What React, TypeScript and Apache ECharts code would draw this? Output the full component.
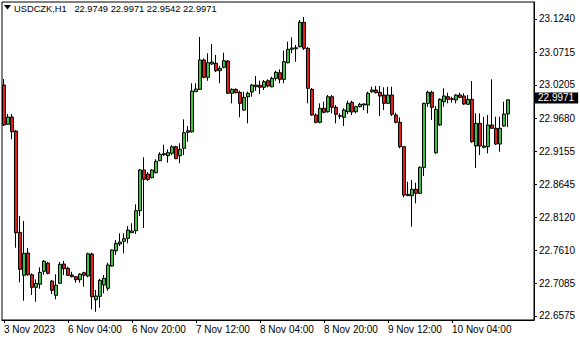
import { useEffect, useRef } from "react";
import * as echarts from "echarts";

const symbolName = "USDCZK,H1";
const opens = [
  23.0203, 22.9586, 22.9700, 22.9480, 22.7889, 22.7214, 22.7564, 22.7223, 22.7025, 22.7073,
  22.7277, 22.7407, 22.7124, 22.6900, 22.7088, 22.7391, 22.7324, 22.7219, 22.7192, 22.7145,
  22.7255, 22.7203, 22.7548, 22.6831, 22.6884, 22.7061, 22.7010, 22.7360, 22.7600, 22.7706,
  22.7748, 22.7795, 22.7883, 22.7914, 22.8229, 22.8868, 22.8805, 22.8747, 22.8825, 22.9014,
  22.9108, 22.9092, 22.9130, 22.9234, 22.9092, 22.9209, 22.9460, 22.9469, 23.0098, 23.0135,
  23.0596, 23.0324, 23.0533, 23.0544, 23.0428, 23.0481, 23.0580, 23.0073, 23.0135, 23.0088,
  22.9810, 23.0019, 23.0093, 23.0176, 23.0198, 23.0167, 23.0270, 23.0176, 23.0308, 23.0396,
  23.0292, 23.0553, 23.0764, 23.0773, 23.0805, 23.1188, 23.0779, 23.0135, 22.9732, 22.9617,
  22.9837, 22.9784, 23.0019, 22.9853, 22.9721, 22.9696, 22.9784, 22.9931, 22.9784, 22.9862,
  22.9889, 22.9889, 23.0098, 23.0124, 23.0088, 23.0046, 22.9915, 23.0046, 22.9732, 22.9617,
  22.9234, 22.8464, 22.8464, 22.8565, 22.8502, 22.8910, 22.9915, 23.0088, 22.9140, 22.9575,
  22.9941, 23.0019, 22.9988, 22.9967, 23.0046, 23.0030, 22.9900, 22.9978, 22.9245, 22.9601,
  22.9225, 22.9234, 22.9575, 22.9523, 22.9276, 22.9559, 22.9749,
];
const closes = [
  22.9575, 22.9700, 22.9469, 22.7883, 22.7308, 22.7559, 22.7223, 22.7025, 22.7088, 22.7261,
  22.7434, 22.7245, 22.6978, 22.7057, 22.7387, 22.7318, 22.7214, 22.7192, 22.7145, 22.7234,
  22.7214, 22.7553, 22.6878, 22.6889, 22.7135, 22.7167, 22.7376, 22.7611, 22.7716, 22.7737,
  22.7789, 22.7925, 22.7910, 22.8229, 22.8868, 22.8722, 22.8722, 22.8868, 22.9004, 22.9114,
  22.9124, 22.9140, 22.9234, 22.9045, 22.9193, 22.9454, 22.9485, 23.0109, 23.0140, 23.0596,
  23.0324, 23.0553, 23.0564, 23.0428, 23.0465, 23.0585, 23.0073, 23.0135, 23.0082, 22.9915,
  23.0010, 23.0073, 23.0203, 23.0203, 23.0167, 23.0255, 23.0187, 23.0308, 23.0402, 23.0292,
  23.0569, 23.0764, 23.0784, 23.0789, 23.1188, 23.0779, 23.0151, 22.9732, 22.9617, 22.9837,
  22.9774, 23.0019, 22.9853, 22.9743, 22.9711, 22.9810, 22.9915, 22.9779, 22.9862, 22.9900,
  22.9905, 23.0073, 23.0124, 23.0082, 23.0030, 22.9915, 23.0046, 22.9743, 22.9617, 22.9234,
  22.8475, 22.8486, 22.8565, 22.8502, 22.8910, 22.9915, 23.0088, 22.9853, 22.9821, 22.9978,
  23.0030, 22.9978, 22.9978, 23.0046, 23.0010, 22.9905, 22.9978, 22.9312, 22.9601, 22.9245,
  22.9245, 22.9575, 22.9523, 22.9276, 22.9523, 22.9747, 22.9971,
];
const lows = [
  22.9559, 22.9575, 22.9350, 22.7647, 22.7104, 22.6815, 22.7208, 22.6904, 22.6799, 22.7003,
  22.7223, 22.7230, 22.6920, 22.6837, 22.7082, 22.7219, 22.7203, 22.7182, 22.7098, 22.7098,
  22.7035, 22.7182, 22.6680, 22.6642, 22.6705, 22.6931, 22.6972, 22.7349, 22.7533, 22.7674,
  22.7559, 22.7716, 22.7883, 22.7863, 22.8145, 22.7957, 22.8695, 22.8737, 22.8816, 22.9009,
  22.9088, 22.8983, 22.9103, 22.9041, 22.8973, 22.9103, 22.9312, 22.9454, 23.0098, 23.0124,
  23.0308, 23.0270, 23.0522, 23.0407, 23.0230, 23.0465, 23.0062, 22.9915, 23.0073, 22.9696,
  22.9799, 22.9601, 23.0019, 23.0113, 23.0062, 23.0124, 23.0167, 23.0167, 23.0270, 23.0230,
  23.0230, 23.0544, 23.0701, 23.0569, 23.0795, 23.0753, 22.9915, 22.9721, 22.9601, 22.9601,
  22.9758, 22.9768, 22.9758, 22.9601, 22.9668, 22.9559, 22.9747, 22.9732, 22.9758, 22.9853,
  22.9810, 22.9758, 23.0082, 23.0073, 22.9716, 22.9810, 22.9905, 22.9716, 22.9601, 22.9209,
  22.8439, 22.8464, 22.7977, 22.8345, 22.8490, 22.8774, 22.9862, 22.9654, 22.9119, 22.9559,
  22.9862, 22.9915, 22.9925, 22.9915, 22.9994, 22.9889, 22.9889, 22.9297, 22.8899, 22.9103,
  22.9209, 22.9130, 22.9523, 22.9261, 22.9155, 22.9548, 22.9542,
];
const highs = [
  23.0297, 22.9747, 22.9747, 22.9496, 22.8145, 22.8067, 22.7643, 22.7245, 22.7151, 22.7340,
  22.7454, 22.7423, 22.7140, 22.7230, 22.7423, 22.7439, 22.7349, 22.7270, 22.7203, 22.7245,
  22.7270, 22.7569, 22.7569, 22.6983, 22.7161, 22.7219, 22.7412, 22.7622, 22.7768, 22.7874,
  22.7874, 22.7988, 22.8031, 22.8329, 22.8884, 22.9067, 22.8836, 22.8884, 22.9036, 22.9146,
  22.9265, 22.9193, 22.9256, 22.9249, 22.9287, 22.9664, 22.9559, 23.0230, 23.0230, 23.0957,
  23.0622, 23.0701, 23.0847, 23.0675, 23.0501, 23.0710, 23.0596, 23.0151, 23.0151, 23.0113,
  23.0098, 23.0098, 23.0219, 23.0344, 23.0270, 23.0281, 23.0292, 23.0333, 23.0428, 23.0450,
  23.0742, 23.0883, 23.0952, 23.0831, 23.1224, 23.1271, 23.0800, 23.0156, 22.9758, 22.9915,
  22.9941, 23.0046, 23.0046, 22.9889, 22.9758, 22.9837, 22.9956, 22.9956, 22.9878, 22.9925,
  22.9915, 23.0098, 23.0176, 23.0187, 23.0187, 23.0167, 23.0176, 23.0176, 22.9768, 22.9696,
  22.9234, 22.8684, 22.8711, 22.8668, 22.8925, 22.9925, 23.0113, 23.0113, 22.9873, 22.9994,
  23.0151, 23.0082, 23.0019, 23.0062, 23.0082, 23.0073, 23.0046, 23.0266, 22.9758, 22.9758,
  22.9705, 22.9732, 23.0292, 22.9705, 22.9705, 22.9941, 22.9971,
];
const priceTicks = [22.6575, 22.7085, 22.761, 22.812, 22.8645, 22.9155, 22.968, 23.0205, 23.0715, 23.124];
const priceMin = 22.6512;
const priceMax = 23.1507;
const lastPrice = 22.9971;
const firstBarUTC = Date.UTC(2023, 10, 3, 12, 0);
const emptyBarsRight = 6;
const labelEvery = 16;
const monthNames = ["Jan", "Feb", "Mar", "Apr", "May", "Jun", "Jul", "Aug", "Sep", "Oct", "Nov", "Dec"];

function buildTimes(count: number): Date[] {
  const out: Date[] = [];
  let t = firstBarUTC;
  while (out.length < count) {
    const d = new Date(t);
    const wd = d.getUTCDay();
    if (wd !== 0 && wd !== 6) out.push(d);
    t += 3600000;
  }
  return out;
}

const pad2 = (v: number) => (v < 10 ? "0" + v : "" + v);

export default function App() {
  const ref = useRef<HTMLDivElement>(null);
  useEffect(() => {
    if (!ref.current) return;
    document.body.style.margin = "0";
    const chart = echarts.init(ref.current, undefined, { renderer: "svg" });
    const nBars = opens.length;
    const times = buildTimes(nBars + emptyBarsRight);
    const categories = times.map(
      (d) => `${d.getUTCFullYear()}-${pad2(d.getUTCMonth() + 1)}-${pad2(d.getUTCDate())} ${pad2(d.getUTCHours())}:00`
    );
    const fmt = (_v: string, idx: number) => {
      const d = times[idx];
      if (!d) return "";
      const base = `${d.getUTCDate()} ${monthNames[d.getUTCMonth()]}`;
      if (idx === 0) return `${base} ${d.getUTCFullYear()}`;
      return `${base} ${pad2(d.getUTCHours())}:${pad2(d.getUTCMinutes())}`;
    };
    const showAt = (idx: number) => idx % labelEvery === 0 && idx < nBars - 8;
    const data = opens.map((o, i) => [o, closes[i], lows[i], highs[i]]);
    const last = data[nBars - 1];
    const header = `${symbolName}   ${last[0].toFixed(4)} ${last[3].toFixed(4)} ${last[2].toFixed(4)} ${last[1].toFixed(4)}`;
    const font = "'Liberation Sans', Arial, sans-serif";

    chart.setOption({
      animation: false,
      backgroundColor: "#ffffff",
      textStyle: { fontFamily: font },
      grid: {
        left: 2,
        right: 46,
        top: 2,
        bottom: 20,
        show: true,
        borderColor: "#000",
        borderWidth: 1,
        backgroundColor: "#fff",
        containLabel: false,
        outerBoundsMode: "none",
      },
      xAxis: {
        type: "category",
        data: categories,
        boundaryGap: true,
        axisLine: { show: true, lineStyle: { color: "#000", width: 1 } },
        axisTick: {
          show: true,
          alignWithLabel: true,
          interval: (i: number) => showAt(i),
          length: 3,
          lineStyle: { color: "#000" },
        },
        axisLabel: {
          interval: (i: number) => showAt(i),
          formatter: fmt,
          align: "left",
          color: "#000",
          fontSize: 10,
          fontFamily: font,
          margin: 4,
        },
        splitLine: { show: false },
      },
      yAxis: {
        type: "value",
        position: "right",
        min: priceMin,
        max: priceMax,
        axisLine: { show: true, lineStyle: { color: "#000", width: 1 } },
        axisTick: { show: true, length: 3, customValues: priceTicks, lineStyle: { color: "#000" } },
        axisLabel: {
          customValues: priceTicks,
          formatter: (v: number) => v.toFixed(4),
          color: "#000",
          fontSize: 10,
          fontFamily: font,
          margin: 5,
        },
        splitLine: { show: false },
      },
      series: [
        {
          type: "candlestick",
          data,
          barWidth: 3,
          itemStyle: {
            color: "#3cc43c",
            color0: "#e31b1b",
            borderColor: "#000",
            borderColor0: "#000",
            borderWidth: 1,
          },
          markLine: {
            silent: true,
            symbol: ["none", "none"],
            lineStyle: { width: 0, color: "rgba(0,0,0,0)", type: "solid" },
            label: {
              show: true,
              position: "end",
              formatter: lastPrice.toFixed(4),
              backgroundColor: "#000",
              color: "#fff",
              fontSize: 10,
              fontFamily: font,
              padding: [1, 4, 0, 3],
              distance: 1,
            },
            data: [{ yAxis: lastPrice }],
          },
        },
      ],
      graphic: [
        {
          type: "polygon",
          shape: { points: [[4, 5], [11, 5], [7.5, 9.5]] },
          style: { fill: "#000" },
        },
        {
          type: "text",
          left: 14,
          top: 4,
          style: { text: header, fontSize: 9.3, fill: "#000", fontFamily: font },
        },
      ],
    });
    return () => chart.dispose();
  }, []);
  return <div ref={ref} style={{ position: "fixed", left: 0, top: 0, width: 580, height: 340 }} />;
}
